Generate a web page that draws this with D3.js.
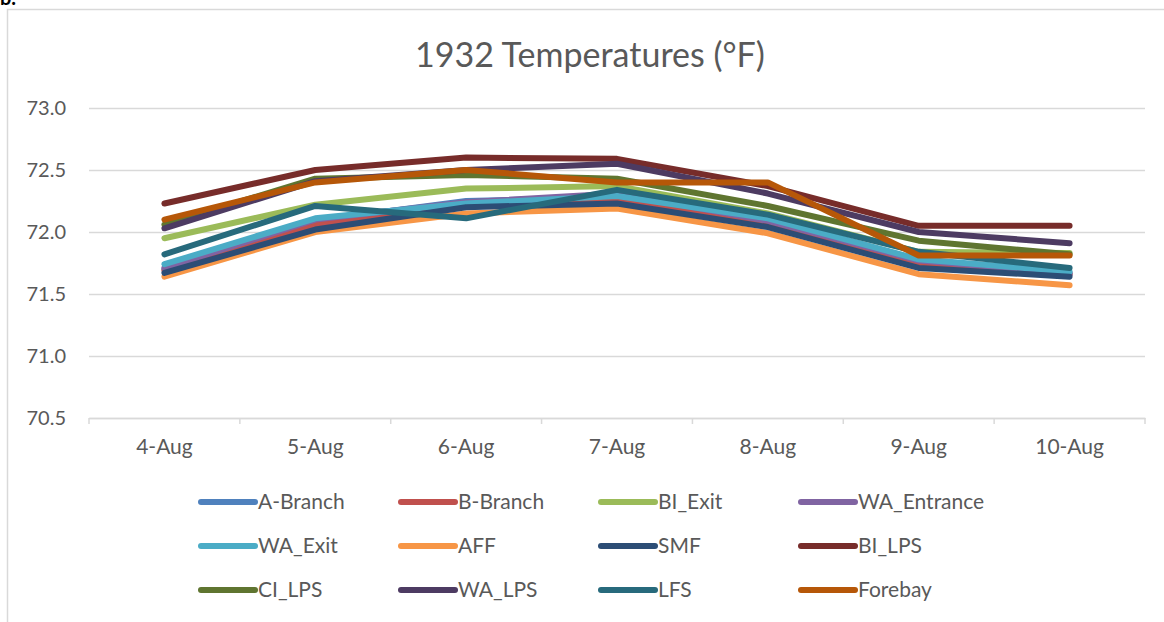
<!DOCTYPE html>
<html>
<head>
<meta charset="utf-8">
<script src="https://cdn.jsdelivr.net/npm/d3@7"></script>
<style>
  html, body { margin: 0; padding: 0; background: #fff; }
  svg { display: block; font-family: Lato, 'Noto Sans', sans-serif; }
</style>
</head>
<body>
<svg id="chart" width="1164" height="622"></svg>
<script>
const DATES = ['4-Aug', '5-Aug', '6-Aug', '7-Aug', '8-Aug', '9-Aug', '10-Aug'];
const Y_TICKS = [70.5, 71.0, 71.5, 72.0, 72.5, 73.0];

const A_BRANCH    = [71.70, 72.09, 72.25, 72.28, 72.08, 71.75, 71.66];
const B_BRANCH    = [71.69, 72.06, 72.21, 72.25, 72.07, 71.75, 71.66];
const BI_EXIT     = [71.95, 72.22, 72.35, 72.37, 72.15, 71.84, 71.83];
const WA_ENTRANCE = [71.71, 72.10, 72.24, 72.31, 72.09, 71.77, 71.67];
const WA_EXIT     = [71.74, 72.11, 72.23, 72.29, 72.11, 71.78, 71.68];
const AFF         = [71.64, 72.00, 72.15, 72.19, 71.99, 71.66, 71.57];
const SMF         = [71.67, 72.02, 72.20, 72.23, 72.04, 71.71, 71.64];
const BI_LPS      = [72.23, 72.50, 72.60, 72.59, 72.37, 72.05, 72.05];
const CI_LPS      = [72.06, 72.43, 72.46, 72.43, 72.21, 71.93, 71.82];
const WA_LPS      = [72.03, 72.41, 72.50, 72.55, 72.31, 72.00, 71.91];
const LFS         = [71.82, 72.21, 72.11, 72.34, 72.14, 71.84, 71.71];
const FOREBAY     = [72.10, 72.40, 72.50, 72.40, 72.40, 71.81, 71.81];

const SERIES = [
  { name: 'A-Branch',    values: A_BRANCH,    color: '#4F81BD' },
  { name: 'B-Branch',    values: B_BRANCH,    color: '#C0504D' },
  { name: 'BI_Exit',     values: BI_EXIT,     color: '#9BBB59' },
  { name: 'WA_Entrance', values: WA_ENTRANCE, color: '#8064A2' },
  { name: 'WA_Exit',     values: WA_EXIT,     color: '#4BACC6' },
  { name: 'AFF',         values: AFF,         color: '#F79646' },
  { name: 'SMF',         values: SMF,         color: '#2C4D75' },
  { name: 'BI_LPS',      values: BI_LPS,      color: '#772C2A' },
  { name: 'CI_LPS',      values: CI_LPS,      color: '#5F7530' },
  { name: 'WA_LPS',      values: WA_LPS,      color: '#4D3B62' },
  { name: 'LFS',         values: LFS,         color: '#276A7C' },
  { name: 'Forebay',     values: FOREBAY,     color: '#B65708' },
];

const PLOT = { left: 89, right: 1145, top: 108, bottom: 418 };
const TEXT_COLOR = '#595959';
const GRID_COLOR = '#d9d9d9';

const svg = d3.select('#chart');

// outer chart border (right/bottom run off the picture)
svg.append('rect')
   .attr('x', 7.5).attr('y', 9.5)
   .attr('width', 1170).attr('height', 630)
   .attr('fill', 'none')
   .attr('stroke', GRID_COLOR)
   .attr('stroke-width', 1.5);

// panel label, cut off at the top edge like the source
svg.append('text')
   .attr('x', 0).attr('y', 5)
   .attr('font-size', 20)
   .attr('font-weight', 'bold')
   .attr('fill', '#000')
   .text('b.');

svg.append('text')
   .attr('x', 590).attr('y', 67)
   .attr('text-anchor', 'middle')
   .attr('font-size', 34)
   .attr('fill', TEXT_COLOR)
   .text('1932 Temperatures (°F)');

const xBand = d3.scaleBand().domain(DATES).range([PLOT.left, PLOT.right]);
const xScale = d3.scalePoint().domain(DATES).range([PLOT.left, PLOT.right]).padding(0.5);
const yScale = d3.scaleLinear().domain([70.5, 73.0]).range([PLOT.bottom, PLOT.top]);

// y gridlines + labels
const yAxis = svg.append('g')
  .attr('transform', `translate(${PLOT.left},0)`)
  .call(d3.axisLeft(yScale)
    .tickValues(Y_TICKS)
    .tickFormat(d3.format('.1f'))
    .tickSize(-(PLOT.right - PLOT.left))
    .tickPadding(23));
yAxis.select('.domain').remove();
yAxis.selectAll('.tick line').attr('stroke', GRID_COLOR).attr('stroke-width', 1.5);
yAxis.selectAll('.tick text')
     .attr('fill', TEXT_COLOR)
     .attr('font-size', 20)
     .attr('font-family', 'Lato, sans-serif');

// x axis: line, boundary ticks, centred labels
const xAxis = svg.append('g')
  .attr('transform', `translate(0,${PLOT.bottom})`)
  .call(d3.axisBottom(xBand).tickSize(0).tickPadding(21));
xAxis.select('.domain').attr('stroke', GRID_COLOR).attr('stroke-width', 1.5);
xAxis.selectAll('.tick text')
     .attr('fill', TEXT_COLOR)
     .attr('font-size', 21)
     .attr('font-family', 'Lato, sans-serif');

const bounds = DATES.map(d => xBand(d)).concat([PLOT.right]);
xAxis.selectAll('.bound')
  .data(bounds)
  .enter()
  .append('line')
  .classed('bound', true)
  .attr('x1', d => d).attr('x2', d => d)
  .attr('y1', 0).attr('y2', 6)
  .attr('stroke', GRID_COLOR)
  .attr('stroke-width', 1.5);

// series lines
const line = d3.line()
  .x((v, i) => xScale(DATES[i]))
  .y(v => yScale(v));

svg.append('g')
  .selectAll('path')
  .data(SERIES)
  .enter()
  .append('path')
  .attr('d', d => line(d.values))
  .attr('fill', 'none')
  .attr('stroke', d => d.color)
  .attr('stroke-width', 6)
  .attr('stroke-linejoin', 'round')
  .attr('stroke-linecap', 'round');

// legend: 3 rows x 4 columns
const LEG = { x0: 201, dx: 200, y0: 502, dy: 44, lineLen: 54 };
const legend = svg.append('g')
  .selectAll('g')
  .data(SERIES)
  .enter()
  .append('g')
  .attr('transform', (d, i) => `translate(${LEG.x0 + (i % 4) * LEG.dx},${LEG.y0 + Math.floor(i / 4) * LEG.dy})`);

legend.append('line')
  .attr('x1', 0).attr('x2', LEG.lineLen)
  .attr('y1', 0).attr('y2', 0)
  .attr('stroke', d => d.color)
  .attr('stroke-width', 6)
  .attr('stroke-linecap', 'round');

legend.append('text')
  .attr('x', LEG.lineLen + 3)
  .attr('y', 0)
  .attr('dy', '0.35em')
  .attr('font-size', 21)
  .attr('fill', TEXT_COLOR)
  .text(d => d.name);
</script>
</body>
</html>
